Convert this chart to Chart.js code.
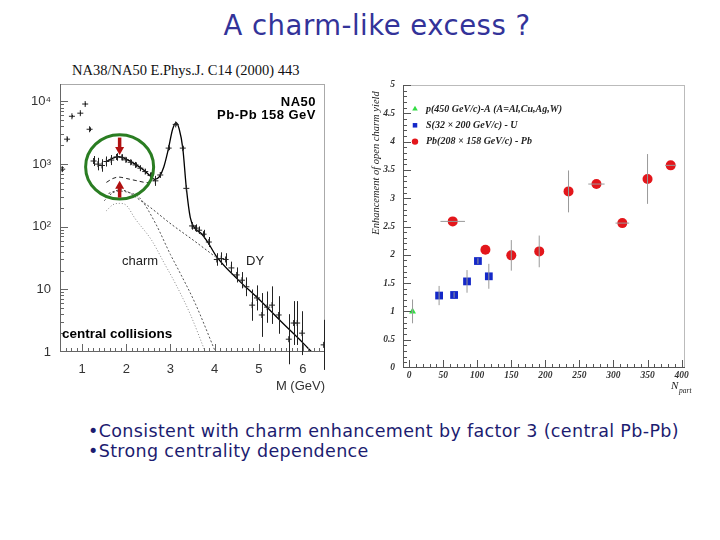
<!DOCTYPE html>
<html>
<head>
<meta charset="utf-8">
<script src="https://cdn.jsdelivr.net/npm/chart.js@4.4.1/dist/chart.umd.min.js"></script>
<style>
body { margin: 0; width: 720px; height: 540px; background: #fff; position: relative; overflow: hidden; font-family: "Liberation Sans", Arial, sans-serif; }
.t { position: absolute; white-space: nowrap; }
canvas { position: absolute; }
</style>
</head>
<body>
<div class="t" style="left:0;width:754px;text-align:center;top:12px;font:27.5px/27.5px 'DejaVu Sans';letter-spacing:0.5px;color:#333399">A charm-like excess ?</div>
<div class="t" style="left:72px;top:63px;font:14.5px/14.5px 'Liberation Serif';color:#111">NA38/NA50 E.Phys.J. C14 (2000) 443</div>

<canvas id="massChart" width="345" height="340" style="left:0;top:60px"></canvas>
<canvas id="enhChart" width="360" height="340" style="left:360px;top:60px"></canvas>

<div class="t" style="right:404px;top:95px;font:bold 13px/13px 'Liberation Sans';letter-spacing:0.5px;text-align:right">NA50</div>
<div class="t" style="right:404px;top:108px;font:bold 13px/13px 'Liberation Sans';letter-spacing:0.5px;text-align:right">Pb-Pb 158 GeV</div>
<div class="t" style="left:122px;top:254px;font:13px/13px 'Liberation Sans';color:#222">charm</div>
<div class="t" style="left:246px;top:254px;font:13px/13px 'Liberation Sans';color:#222">DY</div>
<div class="t" style="left:62px;top:327px;font:bold 13.5px/13.5px 'Liberation Sans'">central collisions</div>
<div class="t" style="right:395px;top:379px;font:13px/13px 'Liberation Sans';color:#333">M (GeV)</div>

<div class="t" style="left:88px;top:422px;font:17.5px/19.5px 'DejaVu Sans';letter-spacing:0.35px;color:#1c1c70">•Consistent with charm enhancement by factor 3 (central Pb-Pb)<br>•Strong centrality dependence</div>

<script>
// ---- left plot: dimuon mass spectrum ----
const massX = [0.55, 0.66, 0.77, 0.96, 1.07, 1.17, 1.26, 1.36, 1.45, 1.55, 1.66, 1.78, 1.90, 1.99, 2.10, 2.21, 2.32, 2.43, 2.55, 2.66, 2.77, 2.96, 3.12, 3.28, 3.36, 3.49, 3.57, 3.65, 3.75, 3.87, 4.05, 4.15, 4.25, 4.38, 4.50, 4.62, 4.72, 4.85, 4.96, 5.07, 5.19, 5.30, 5.45, 5.68, 5.79, 5.87, 5.98, 6.47];
const massY = [830, 2500, 5800, 6500, 9100, 3600, 1120, 1000, 950, 1100, 1160, 1300, 1280, 1170, 1070, 970, 860, 760, 660, 540, 670, 1800, 4300, 1800, 410, 103, 95, 88, 76, 57, 30, 31, 30, 22, 17, 14, 11, 5.6, 7.3, 3.9, 5.2, 5.6, 3.9, 1.6, 2.9, 2.9, 2.0, 1.3];
// half error bar, in decades
const massErr = [0.04, 0.03, 0.02, 0.02, 0.02, 0.03, 0.08, 0.1, 0.1, 0.08, 0.08, 0.06, 0.05, 0.04, 0.04, 0.04, 0.04, 0.04, 0.05, 0.08, 0.04, 0.03, 0.02, 0.03, 0.04, 0.06, 0.06, 0.06, 0.07, 0.08, 0.1, 0.1, 0.1, 0.1, 0.12, 0.13, 0.15, 0.25, 0.2, 0.35, 0.25, 0.3, 0.3, 0.4, 0.35, 0.35, 0.35, 0.4];

const fitX = [1.55, 1.7, 1.83, 2.0, 2.2, 2.4, 2.55, 2.65, 2.75, 2.85, 2.95, 3.05, 3.13, 3.2, 3.28, 3.36, 3.45, 3.55, 3.7, 3.85, 4.05, 4.5, 5.0, 5.5, 6.0, 6.2];
const fitY = [1100, 1250, 1320, 1200, 1000, 800, 640, 570, 630, 900, 1700, 3600, 4600, 3600, 1800, 420, 140, 95, 78, 56, 33, 15, 7.0, 3.1, 1.4, 1.0];
const bkgX = [1.55, 1.7, 1.83, 2.0, 2.2, 2.5, 2.65];
const bkgY = [510, 590, 620, 590, 550, 505, 560];
const dyX = [1.6, 1.87, 2.36, 3.04, 3.56, 4.02];
const dyY = [340, 388, 252, 107, 58, 33];
const charmEnhX = [1.5, 1.7, 1.83, 2.0, 2.3, 2.66, 3.0, 3.19, 3.56, 4.02];
const charmEnhY = [260, 350, 370, 360, 290, 114, 36, 20, 6, 1];
const charmX = [1.55, 1.7, 1.85, 2.0, 2.2, 2.58, 2.85, 3.11, 3.45, 3.79];
const charmY = [180, 225, 236, 220, 135, 60, 27, 12.5, 4, 1];

const massTicks = [1, 2, 3, 4, 5, 6];
const yieldTicks = [1, 10, 100, 1000, 10000];
const yieldTickLabels = ['1', '10', '10²', '10³', '10⁴'];

// circle + arrows marking the intermediate mass region
const circleX = 1.85, circleHalfW = 0.77, circleTop = 2940, circleBottom = 277;
const arrowX = [1.85, 1.85];
const arrowFrom = [2650, 292];
const arrowTo = [1400, 540];

// ---- right plot: enhancement vs Npart ----
const pA_Npart = [5];
const pA_enh = [1.0];
const pA_err = [0.21];
const SU_Npart = [44, 66, 85, 101, 117];
const SU_enh = [1.28, 1.29, 1.53, 1.89, 1.62];
const SU_err = [0.17, 0.05, 0.2, 0.05, 0.22];
const PbPb_Npart = [64, 112, 150, 191, 234, 275, 313, 350, 384];
const PbPb_enh = [2.59, 2.09, 1.99, 2.06, 3.12, 3.25, 2.56, 3.34, 3.58];
const PbPb_err = [0, 0, 0.27, 0.28, 0.37, 0, 0, 0.44, 0];
const PbPb_xErr = [18, 0, 0, 0, 0, 12, 10, 0, 8];

const npartTicks = [0, 50, 100, 150, 200, 250, 300, 350, 400];
const enhTicks = [0, 0.5, 1, 1.5, 2, 2.5, 3, 3.5, 4, 4.5, 5];

function pts(xs, ys) {
    return xs.map((x, i) => ({ x: x, y: ys[i] }));
}

function range(a, b, step) {
    const out = [];
    for (let v = a; v <= b + 1e-9; v += step) out.push(Math.round(v * 1000) / 1000);
    return out;
}

function line(ctx, x1, y1, x2, y2) {
    ctx.beginPath();
    ctx.moveTo(x1, y1);
    ctx.lineTo(x2, y2);
    ctx.stroke();
}

// frame + inward ticks, ROOT style
function drawFrame(chart, xMajor, xMinor, yMajor, yMinor, axisColor, frameColor) {
    const ctx = chart.ctx, a = chart.chartArea;
    const xs = chart.scales.x, ys = chart.scales.y;
    ctx.save();
    ctx.lineWidth = 1;
    ctx.strokeStyle = frameColor;
    line(ctx, a.left, a.top + 0.5, a.right, a.top + 0.5);
    line(ctx, a.right - 0.5, a.top, a.right - 0.5, a.bottom);
    ctx.strokeStyle = axisColor;
    line(ctx, a.left + 0.5, a.top, a.left + 0.5, a.bottom);
    line(ctx, a.left, a.bottom - 0.5, a.right, a.bottom - 0.5);
    xMinor.forEach(v => {
        const p = Math.round(xs.getPixelForValue(v)) + 0.5;
        if (p < a.left || p > a.right) return;
        line(ctx, p, a.bottom, p, a.bottom - (xMajor.includes(v) ? 8 : 4));
    });
    yMinor.forEach(v => {
        const p = Math.round(ys.getPixelForValue(v)) + 0.5;
        if (p < a.top || p > a.bottom) return;
        line(ctx, a.left, p, a.left + (yMajor.includes(v) ? 8 : 4), p);
    });
    ctx.restore();
}

const massDecor = {
    id: 'massDecor',
    afterDatasetsDraw(chart) {
        const ctx = chart.ctx;
        const xs = chart.scales.x, ys = chart.scales.y;
        let logMinor = [];
        [1, 10, 100, 1000, 10000].forEach(d => { for (let k = 1; k <= 9; k++) logMinor.push(d * k); });
        drawFrame(chart, massTicks, range(0.5, 6.5, 0.125), yieldTicks, logMinor, '#666', '#aaa');

        // vertical error bars
        ctx.save();
        ctx.strokeStyle = '#222';
        ctx.lineWidth = 1;
        massX.forEach((x, i) => {
            const px = Math.round(xs.getPixelForValue(x)) + 0.5;
            const f = Math.pow(10, massErr[i]);
            line(ctx, px, ys.getPixelForValue(massY[i] * f), px, ys.getPixelForValue(massY[i] / f));
        });

        // green circle
        const cx = xs.getPixelForValue(circleX);
        const rx = xs.getPixelForValue(circleX + circleHalfW) - cx;
        const yt = ys.getPixelForValue(circleTop), yb = ys.getPixelForValue(circleBottom);
        ctx.strokeStyle = '#2a7d22';
        ctx.lineWidth = 3;
        ctx.beginPath();
        ctx.ellipse(cx, (yt + yb) / 2, rx, (yb - yt) / 2, 0, 0, 2 * Math.PI);
        ctx.stroke();

        // red arrows
        ctx.strokeStyle = '#b01010';
        ctx.fillStyle = '#b01010';
        arrowX.forEach((x, i) => {
            const px = xs.getPixelForValue(x);
            const y1 = ys.getPixelForValue(arrowFrom[i]);
            const y2 = ys.getPixelForValue(arrowTo[i]);
            const dir = Math.sign(y2 - y1);
            ctx.lineWidth = 3.5;
            line(ctx, px, y1, px, y2 - dir * 7);
            ctx.beginPath();
            ctx.moveTo(px - 4.5, y2 - dir * 8);
            ctx.lineTo(px + 4.5, y2 - dir * 8);
            ctx.lineTo(px, y2);
            ctx.closePath();
            ctx.fill();
        });
        ctx.restore();
    }
};

new Chart(document.getElementById('massChart'), {
    type: 'scatter',
    data: {
        datasets: [
            {
                label: 'data',
                data: pts(massX, massY),
                pointStyle: 'cross',
                pointRadius: 3,
                borderColor: '#222',
                borderWidth: 1
            },
            {
                label: 'fit',
                type: 'line',
                data: pts(fitX, fitY),
                borderColor: '#000',
                borderWidth: 1.3,
                pointRadius: 0,
                cubicInterpolationMode: 'monotone'
            },
            {
                label: 'sum',
                type: 'line',
                data: pts(bkgX, bkgY),
                borderColor: '#222',
                borderWidth: 1,
                borderDash: [4, 3],
                pointRadius: 0,
                cubicInterpolationMode: 'monotone'
            },
            {
                label: 'DY',
                type: 'line',
                data: pts(dyX, dyY),
                borderColor: '#444',
                borderWidth: 1,
                borderDash: [2, 2],
                pointRadius: 0,
                cubicInterpolationMode: 'monotone'
            },
            {
                label: 'charm x3',
                type: 'line',
                data: pts(charmEnhX, charmEnhY),
                borderColor: '#555',
                borderWidth: 1,
                borderDash: [2, 2],
                pointRadius: 0,
                cubicInterpolationMode: 'monotone'
            },
            {
                label: 'charm',
                type: 'line',
                data: pts(charmX, charmY),
                borderColor: '#888',
                borderWidth: 1,
                borderDash: [1, 2],
                pointRadius: 0,
                cubicInterpolationMode: 'monotone'
            }
        ]
    },
    options: {
        responsive: false,
        animation: false,
        layout: { padding: { top: 24, right: 20, left: 0, bottom: 0 } },
        plugins: {
            legend: { display: false },
            tooltip: { enabled: false }
        },
        scales: {
            x: {
                type: 'linear',
                min: 0.5,
                max: 6.5,
                grid: { display: false, drawTicks: false },
                border: { display: false },
                afterBuildTicks: s => { s.ticks = massTicks.map(v => ({ value: v })); },
                afterFit: s => { s.height = 48; },
                ticks: { font: { family: 'Liberation Sans', size: 13 }, color: '#333', padding: 10, maxRotation: 0 }
            },
            y: {
                type: 'logarithmic',
                min: 1,
                max: 19000,
                grid: { display: false, drawTicks: false },
                border: { display: false },
                afterBuildTicks: s => { s.ticks = yieldTicks.map(v => ({ value: v })); },
                afterFit: s => { s.width = 60; },
                ticks: {
                    font: { family: 'Liberation Sans', size: 13 },
                    color: '#333',
                    padding: 9,
                    callback: (v, i) => yieldTickLabels[i]
                }
            }
        }
    },
    plugins: [massDecor]
});

const enhDecor = {
    id: 'enhDecor',
    afterDatasetsDraw(chart) {
        const ctx = chart.ctx;
        const xs = chart.scales.x, ys = chart.scales.y;
        drawFrame(chart, npartTicks, range(0, 400, 10), enhTicks, range(0, 5, 0.1), '#555', '#bbb');

        // error bars
        ctx.save();
        ctx.strokeStyle = '#999';
        ctx.lineWidth = 1;
        chart.data.datasets.forEach(ds => {
            ds.data.forEach((p, i) => {
                const px = xs.getPixelForValue(p.x), py = ys.getPixelForValue(p.y);
                if (ds.errY && ds.errY[i]) line(ctx, px, ys.getPixelForValue(p.y + ds.errY[i]), px, ys.getPixelForValue(p.y - ds.errY[i]));
                if (ds.errX && ds.errX[i]) line(ctx, xs.getPixelForValue(p.x - ds.errX[i]), py, xs.getPixelForValue(p.x + ds.errX[i]), py);
            });
        });
        ctx.restore();
    },
    afterDraw(chart) {
        const ctx = chart.ctx;
        ctx.save();
        // legend
        chart.data.datasets.forEach((ds, i) => {
            const y = 49 + i * 16.3;
            ctx.fillStyle = ds.backgroundColor;
            ctx.strokeStyle = ds.backgroundColor;
            Chart.helpers.drawPoint(ctx, { pointStyle: ds.pointStyle, radius: 3.2, borderWidth: 0, rotation: 0 }, 55, y);
            ctx.fillStyle = '#222';
            ctx.font = 'bold italic 10px "Liberation Serif"';
            ctx.textBaseline = 'middle';
            ctx.textAlign = 'left';
            ctx.fillText(ds.label, 66, y);
        });
        // y axis title
        ctx.translate(16, 103);
        ctx.rotate(-Math.PI / 2);
        ctx.textAlign = 'center';
        ctx.font = 'italic 10.5px "Liberation Serif"';
        ctx.fillText('Enhancement of open charm yield', 0, 0);
        ctx.restore();
        // x axis title
        ctx.save();
        ctx.fillStyle = '#222';
        ctx.font = 'italic 11px "Liberation Serif"';
        ctx.textBaseline = 'alphabetic';
        ctx.fillText('N', 311, 329);
        ctx.font = 'italic 7.5px "Liberation Serif"';
        ctx.fillText('part', 319, 333);
        ctx.restore();
    }
};

new Chart(document.getElementById('enhChart'), {
    type: 'scatter',
    data: {
        datasets: [
            {
                label: 'p(450 GeV/c)-A (A=Al,Cu,Ag,W)',
                data: pts(pA_Npart, pA_enh),
                errY: pA_err,
                pointStyle: 'triangle',
                pointRadius: 4,
                backgroundColor: '#33dd44',
                borderColor: '#33dd44',
                borderWidth: 0
            },
            {
                label: 'S(32 × 200 GeV/c) - U',
                data: pts(SU_Npart, SU_enh),
                errY: SU_err,
                pointStyle: 'rect',
                pointRadius: 5.5,
                backgroundColor: '#1428c8',
                borderColor: '#1428c8',
                borderWidth: 0
            },
            {
                label: 'Pb(208 × 158 GeV/c) - Pb',
                data: pts(PbPb_Npart, PbPb_enh),
                errY: PbPb_err,
                errX: PbPb_xErr,
                pointStyle: 'circle',
                pointRadius: 5,
                backgroundColor: '#e3161b',
                borderColor: '#e3161b',
                borderWidth: 0
            }
        ]
    },
    options: {
        responsive: false,
        animation: false,
        layout: { padding: { top: 25, right: 35, left: 0, bottom: 0 } },
        plugins: {
            legend: { display: false },
            tooltip: { enabled: false }
        },
        scales: {
            x: {
                type: 'linear',
                min: -9,
                max: 405,
                grid: { display: false, drawTicks: false },
                border: { display: false },
                afterBuildTicks: s => { s.ticks = npartTicks.map(v => ({ value: v })); },
                afterFit: s => { s.height = 32; },
                ticks: { font: { family: 'Liberation Serif', size: 9.5, style: 'italic', weight: 'bold' }, color: '#333', padding: 2, maxRotation: 0 }
            },
            y: {
                type: 'linear',
                min: 0,
                max: 5,
                grid: { display: false, drawTicks: false },
                border: { display: false },
                afterBuildTicks: s => { s.ticks = enhTicks.map(v => ({ value: v })); },
                afterFit: s => { s.width = 43; },
                ticks: { font: { family: 'Liberation Serif', size: 9.5, style: 'italic', weight: 'bold' }, color: '#333', padding: 8, callback: v => String(v) }
            }
        }
    },
    plugins: [enhDecor]
});
</script>
</body>
</html>
